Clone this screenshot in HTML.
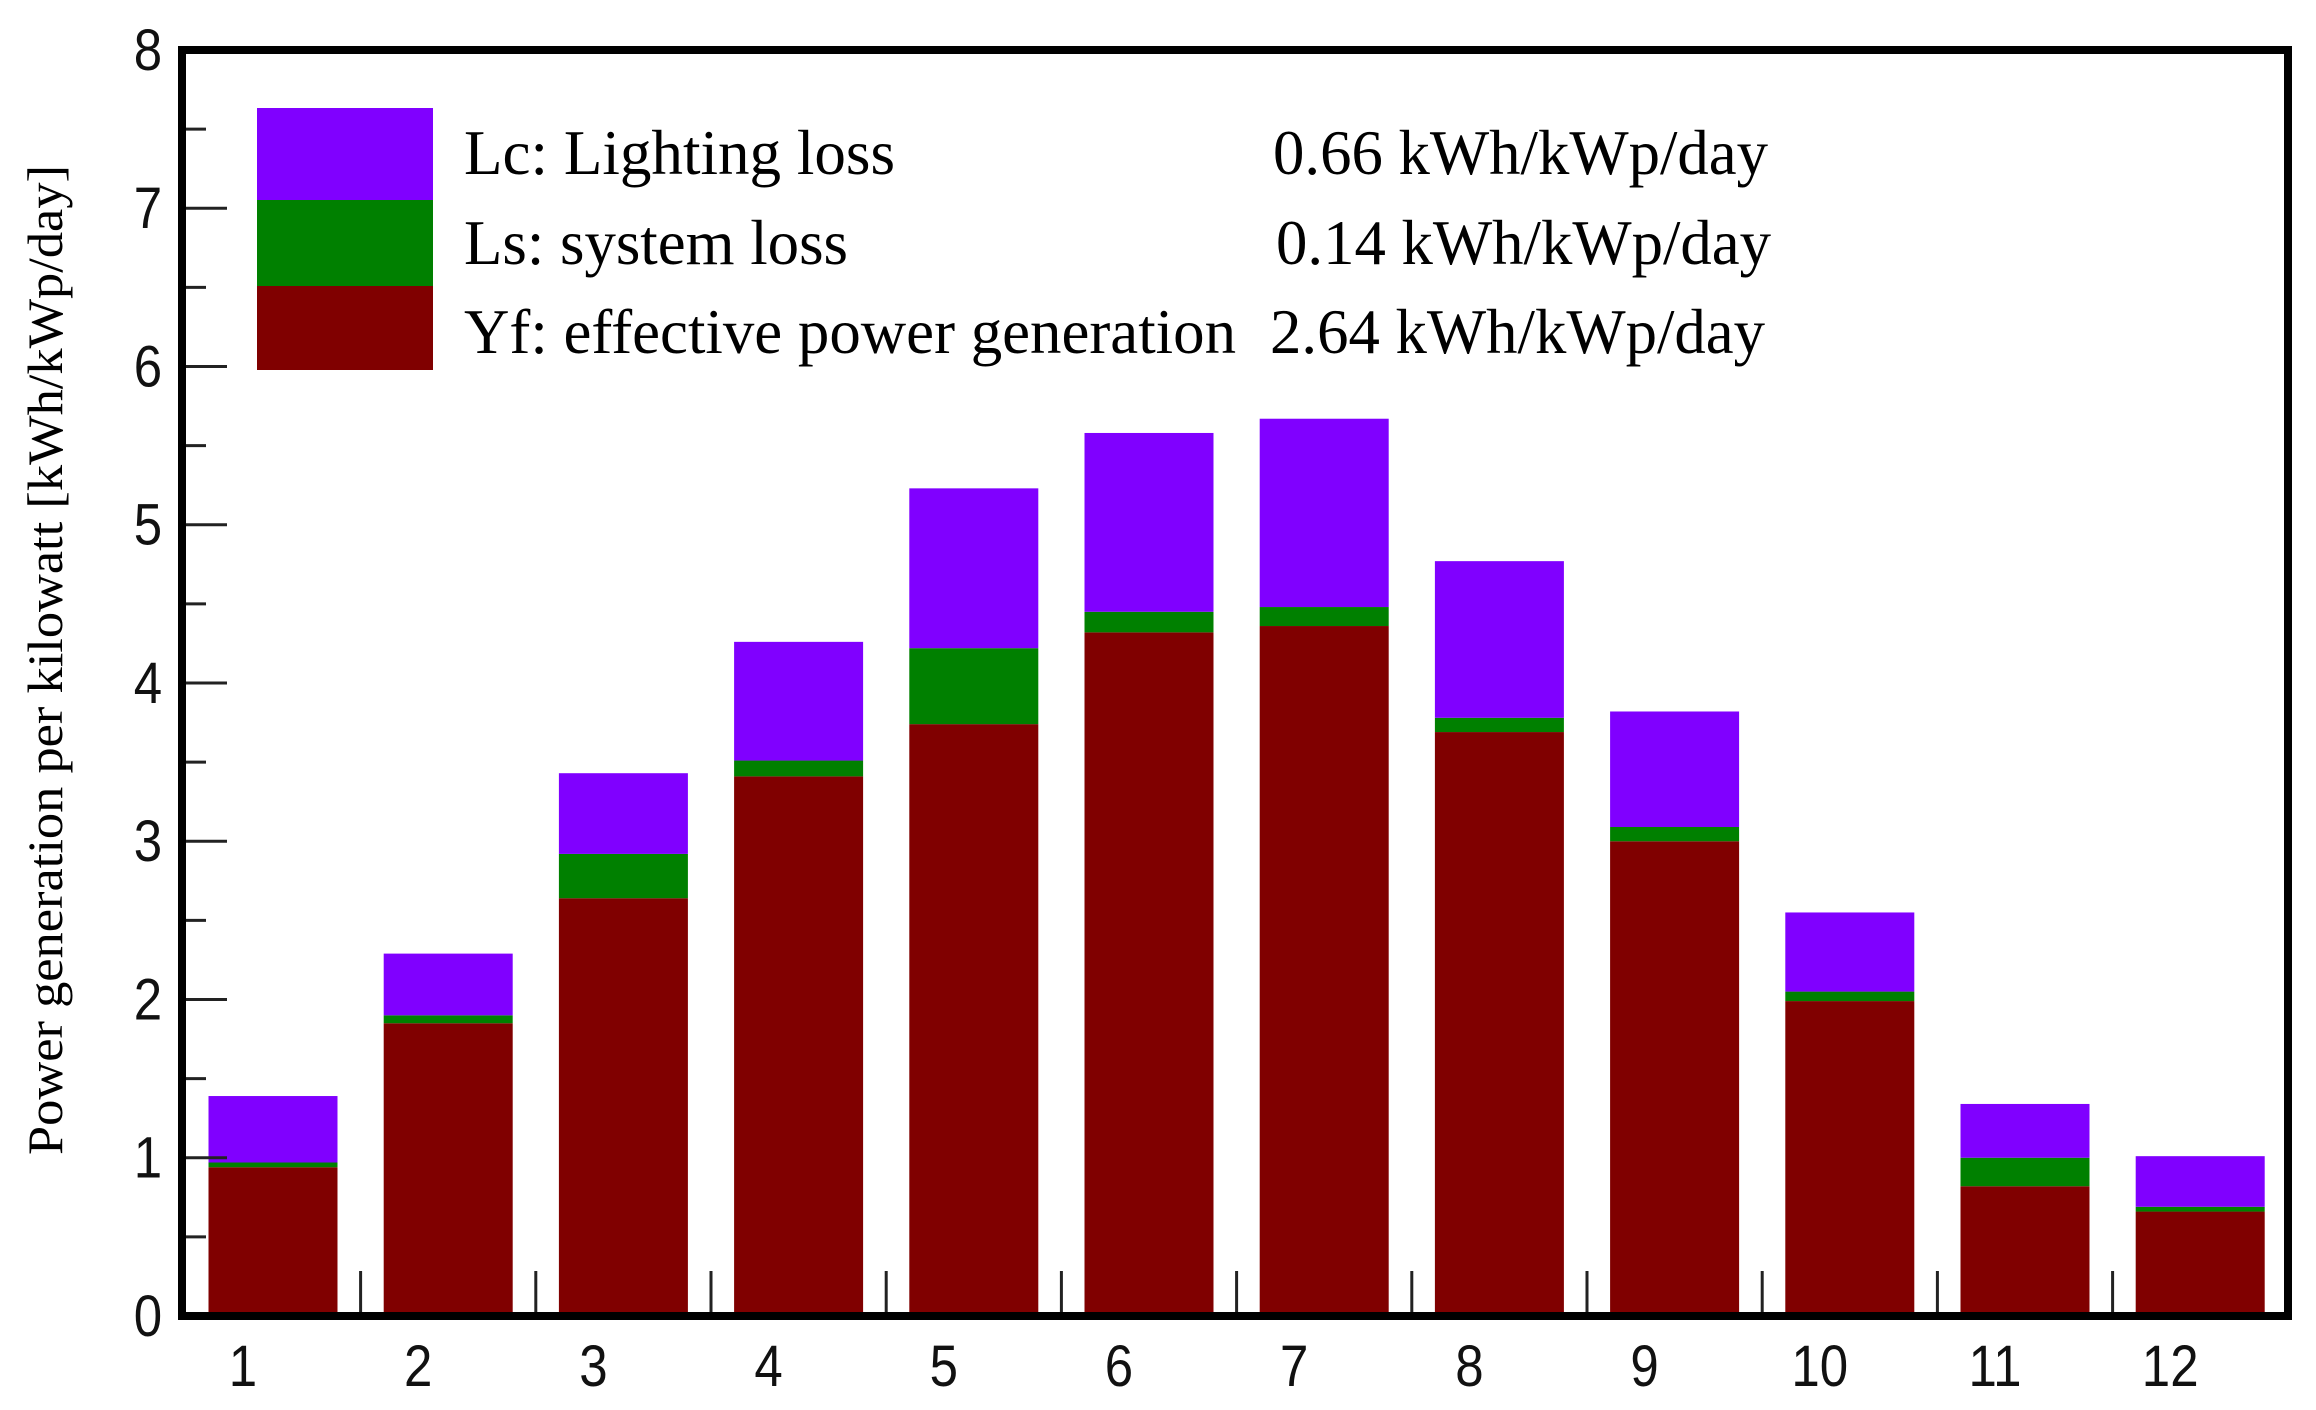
<!DOCTYPE html>
<html><head><meta charset="utf-8"><style>html,body{margin:0;padding:0;background:#fff;}svg{display:block;}</style></head>
<body>
<svg id="chart" width="2316" height="1410" viewBox="0 0 2316 1410" xmlns="http://www.w3.org/2000/svg">
<g id="plot"></g>
<g id="legend">
  <rect x="257" y="108" width="176" height="92" fill="#8000ff"/>
  <rect x="257" y="200" width="176" height="86" fill="#008000"/>
  <rect x="257" y="286" width="176" height="84" fill="#800000"/>
  <g font-family="'Liberation Serif', serif" font-size="64" fill="#000">
    <text x="464" y="174" textLength="431" lengthAdjust="spacingAndGlyphs">Lc: Lighting loss</text>
    <text x="464" y="264" textLength="384" lengthAdjust="spacingAndGlyphs">Ls: system loss</text>
    <text x="464" y="353" textLength="772" lengthAdjust="spacingAndGlyphs">Yf: effective power generation</text>
    <text x="1273" y="174" textLength="495" lengthAdjust="spacingAndGlyphs">0.66 kWh/kWp/day</text>
    <text x="1276" y="264" textLength="495" lengthAdjust="spacingAndGlyphs">0.14 kWh/kWp/day</text>
    <text x="1270" y="353" textLength="495" lengthAdjust="spacingAndGlyphs">2.64 kWh/kWp/day</text>
  </g>
</g>
<text transform="translate(62,660) rotate(-90)" text-anchor="middle" font-family="'Liberation Serif', serif" font-size="50" textLength="990" lengthAdjust="spacingAndGlyphs">Power generation per kilowatt [kWh/kWp/day]</text>
</svg>
<script>
const months = ['1','2','3','4','5','6','7','8','9','10','11','12'];
const yfValues = [0.94,1.85,2.64,3.41,3.74,4.32,4.36,3.69,3.00,1.99,0.82,0.66];
const lsValues = [0.03,0.05,0.28,0.10,0.48,0.13,0.12,0.09,0.09,0.06,0.18,0.03];
const lcValues = [0.42,0.39,0.51,0.75,1.01,1.13,1.19,0.99,0.73,0.50,0.34,0.32];
const yTicks = [0,1,2,3,4,5,6,7,8];

const NS='http://www.w3.org/2000/svg';
const plot=document.getElementById('plot');
const X0=182, X1=2288, Y0=1316, YTOP=50, UNIT=(Y0-YTOP)/8;
const FIRST=273, PITCH=175.2, BW=129;
function yScale(v){return Y0 - v*UNIT;}
function xScale(i){return FIRST + i*PITCH;}
function mk(tag,attrs){const e=document.createElementNS(NS,tag);for(const k in attrs)e.setAttribute(k,attrs[k]);plot.appendChild(e);return e;}

months.forEach((m,i)=>{
  const cx=xScale(i);
  let base=0;
  const segs=[[yfValues[i],'#800000','yf'],[lsValues[i],'#008000','ls'],[lcValues[i],'#8000ff','lc']];
  segs.forEach(s=>{
    const r=mk('rect',{x:cx-BW/2,y:yScale(base+s[0]),width:BW,height:s[0]*UNIT,fill:s[1]});
    
    
    base+=s[0];
  });
  const t=mk('text',{x:cx-30,y:1386,'text-anchor':'middle','font-family':"'Liberation Sans', sans-serif",'font-size':'58',fill:'#111',transform:'translate('+(cx-30)+',0) scale(0.88,1) translate('+(-(cx-30))+',0)'});
  t.textContent=m;
  
  
  if(i<months.length-1){
    const tk=mk('line',{x1:cx+PITCH/2,x2:cx+PITCH/2,y1:Y0,y2:Y0-45,stroke:'#222','stroke-width':3});
    
    
  }
});

yTicks.forEach((v,i)=>{
  const y=yScale(v);
  const t=mk('text',{x:148,y:y+20,'text-anchor':'middle','font-family':"'Liberation Sans', sans-serif",'font-size':'58',fill:'#111',transform:'translate(148,0) scale(0.88,1) translate(-148,0)'});
  t.textContent=String(v);
  
  
  if(v>0&&v<8){
    const tk=mk('line',{x1:X0,x2:X0+45,y1:y,y2:y,stroke:'#222','stroke-width':3});
    
    
  }
  if(v<8){
    const mt=mk('line',{x1:X0,x2:X0+24,y1:yScale(v+0.5),y2:yScale(v+0.5),stroke:'#222','stroke-width':3});
    
    
  }
});

const frame=mk('rect',{x:X0,y:YTOP,width:X1-X0,height:Y0-YTOP,fill:'none',stroke:'#000','stroke-width':8});


</script>
</body></html>
